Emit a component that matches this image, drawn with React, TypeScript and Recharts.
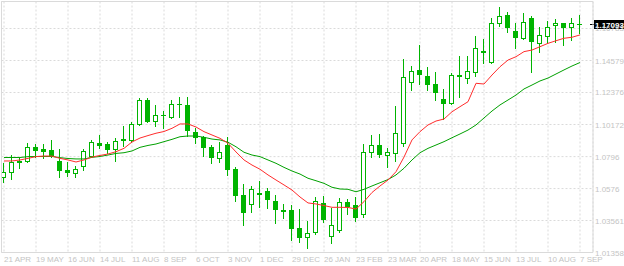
import React from 'react';
import { ComposedChart, Bar, Line, XAxis, YAxis, CartesianGrid, ReferenceLine } from 'recharts';

// weekly candles, one every week, labels every 4th week
const weekTicks = [0, 4, 8, 12, 16, 20, 24, 28, 32, 36, 40, 44, 48, 52, 56, 60, 64, 68, 72];
const weekLabels = ['21 APR', '19 MAY', '16 JUN', '14 JUL', '11 AUG', '8 SEP', '6 OCT', '3 NOV', '1 DEC', '29 DEC', '26 JAN', '23 FEB', '23 MAR', '20 APR', '18 MAY', '15 JUN', '13 JUL', '10 AUG', '7 SEP'];

const priceTicks = [1.01358, 1.03561, 1.0576, 1.0796, 1.10172, 1.12376, 1.14579, 1.16783];
const priceLabels = ['1.01358', '1.03561', '1.0576', '1.0796', '1.10172', '1.12376', '1.14579', '1.16783'];
const lastPrice = 1.17093;

const opens = [1.0656, 1.069, 1.0766, 1.0766, 1.0862, 1.0849, 1.0842, 1.0766, 1.0704, 1.0683, 1.0732, 1.08, 1.089, 1.0883, 1.0849, 1.0915, 1.0911, 1.1021, 1.1186, 1.1041, 1.108, 1.1069, 1.1158, 1.1152, 1.0966, 1.0931, 1.0862, 1.0787, 1.0876, 1.0711, 1.0532, 1.047, 1.0546, 1.0559, 1.049, 1.0428, 1.0428, 1.0305, 1.0243, 1.0277, 1.0477, 1.0249, 1.0291, 1.0484, 1.0463, 1.0401, 1.0828, 1.0876, 1.0807, 1.0821, 1.089, 1.131, 1.1393, 1.1351, 1.1296, 1.1193, 1.1165, 1.1358, 1.1337, 1.1379, 1.1516, 1.1448, 1.1716, 1.1771, 1.1661, 1.1613, 1.1751, 1.1578, 1.1627, 1.1702, 1.1716, 1.1689, 1.1706];
const highs = [1.0752, 1.0807, 1.0787, 1.089, 1.0883, 1.0883, 1.0911, 1.0849, 1.0759, 1.0732, 1.0849, 1.0911, 1.0945, 1.0897, 1.0924, 1.1007, 1.1034, 1.12, 1.12, 1.1152, 1.111, 1.1186, 1.1207, 1.1207, 1.0993, 1.0938, 1.0876, 1.0897, 1.0931, 1.0725, 1.0608, 1.0594, 1.0628, 1.058, 1.0532, 1.047, 1.0463, 1.0435, 1.0353, 1.0518, 1.0525, 1.0442, 1.0511, 1.0504, 1.0518, 1.0883, 1.0945, 1.0952, 1.0855, 1.1145, 1.1468, 1.142, 1.1565, 1.1413, 1.1379, 1.1262, 1.1372, 1.1489, 1.1489, 1.1627, 1.1606, 1.1751, 1.1826, 1.1792, 1.1716, 1.1785, 1.1764, 1.1689, 1.173, 1.1744, 1.1717, 1.1751, 1.1771];
const lows = [1.0621, 1.0642, 1.0718, 1.0759, 1.0793, 1.0787, 1.0793, 1.0656, 1.0663, 1.0656, 1.0704, 1.0793, 1.0855, 1.0821, 1.0766, 1.0869, 1.0897, 1.1014, 1.1034, 1.1007, 1.0993, 1.1062, 1.1069, 1.0938, 1.089, 1.08, 1.0752, 1.0759, 1.067, 1.049, 1.0325, 1.0415, 1.0449, 1.0442, 1.0339, 1.0373, 1.0222, 1.0208, 1.0167, 1.0263, 1.0346, 1.0201, 1.0277, 1.0401, 1.0353, 1.038, 1.0793, 1.0793, 1.0725, 1.0766, 1.0869, 1.1255, 1.1296, 1.1255, 1.1186, 1.1055, 1.1158, 1.1207, 1.1303, 1.1351, 1.1441, 1.1441, 1.1696, 1.1654, 1.1544, 1.1606, 1.1379, 1.1516, 1.1578, 1.1585, 1.1565, 1.1599, 1.1647];
const closes = [1.069, 1.0759, 1.0759, 1.0862, 1.0842, 1.0835, 1.08, 1.0704, 1.069, 1.0711, 1.0835, 1.0897, 1.0876, 1.0849, 1.0904, 1.0912, 1.1021, 1.1186, 1.1041, 1.1083, 1.1083, 1.1158, 1.1155, 1.0979, 1.0931, 1.0862, 1.0793, 1.0828, 1.0711, 1.0532, 1.0415, 1.0573, 1.0542, 1.0504, 1.0435, 1.0425, 1.0305, 1.0243, 1.027, 1.049, 1.0367, 1.0325, 1.0484, 1.0456, 1.038, 1.0828, 1.0876, 1.0814, 1.0828, 1.0959, 1.1344, 1.1386, 1.1365, 1.1296, 1.1241, 1.1165, 1.1358, 1.1351, 1.1386, 1.1544, 1.152, 1.1716, 1.1764, 1.1689, 1.162, 1.1723, 1.1592, 1.1634, 1.1689, 1.1716, 1.1689, 1.1716, 1.17093];

// moving averages as drawn on the chart
const fastMA = [1.0766, 1.0766, 1.0773, 1.0784, 1.0796, 1.08, 1.08, 1.0784, 1.0773, 1.0759, 1.0773, 1.0793, 1.0804, 1.0814, 1.083, 1.0853, 1.0897, 1.0924, 1.0941, 1.0957, 1.0969, 1.0991, 1.1021, 1.1021, 1.1, 1.0968, 1.0945, 1.0922, 1.0888, 1.0828, 1.0773, 1.0738, 1.0709, 1.067, 1.0635, 1.0601, 1.0566, 1.0518, 1.0477, 1.047, 1.0459, 1.0447, 1.0447, 1.0446, 1.0435, 1.0486, 1.0549, 1.0594, 1.0635, 1.0692, 1.0793, 1.0911, 1.0968, 1.1014, 1.1041, 1.1055, 1.1105, 1.114, 1.1174, 1.1301, 1.1296, 1.1358, 1.1415, 1.1461, 1.1484, 1.1519, 1.153, 1.1553, 1.1576, 1.1594, 1.1611, 1.1618, 1.1634];
const slowMA = [1.079, 1.079, 1.079, 1.0796, 1.0797, 1.0797, 1.0797, 1.0789, 1.0783, 1.078, 1.078, 1.0791, 1.0797, 1.0807, 1.0818, 1.0823, 1.0835, 1.086, 1.0873, 1.0883, 1.0899, 1.0915, 1.0933, 1.0938, 1.0938, 1.0929, 1.0917, 1.0911, 1.0895, 1.0864, 1.0826, 1.0807, 1.0796, 1.0773, 1.075, 1.0722, 1.0697, 1.0676, 1.0647, 1.063, 1.0612, 1.0585, 1.0573, 1.0571, 1.0554, 1.0571, 1.0594, 1.0616, 1.0638, 1.067, 1.0716, 1.0773, 1.0823, 1.0853, 1.0876, 1.0899, 1.0926, 1.0952, 1.0979, 1.1014, 1.1062, 1.111, 1.1152, 1.1186, 1.122, 1.1262, 1.1289, 1.1317, 1.1337, 1.1365, 1.1393, 1.142, 1.1444];

const data = opens.map((open, i) => ({
  i,
  open,
  close: closes[i],
  high: highs[i],
  low: lows[i],
  range: [lows[i], highs[i]],
  fast: fastMA[i],
  slow: slowMA[i],
}));

const GREEN = '#00b400';
const GRID = '#dadada';
const TEXT = '#c4c4c4';
const FONT = '"Liberation Sans", Arial, sans-serif';

// candle body/wick drawn with plain fills so every edge lands on a whole pixel
function Candle(props: any) {
  const { x, y, width, height, payload } = props;
  if (x == null || !payload) return null;
  const { open, close, high, low } = payload;
  const top = Math.min(y, y + height);
  const h = Math.abs(height);
  const toY = (v: number) => top + ((high - v) / (high - low || 1)) * h;
  const cx = Math.floor(x + width / 2);
  const up = close >= open;
  const wTop = Math.round(toY(high));
  const wBot = Math.round(toY(low));
  const bTop = Math.round(toY(Math.max(open, close)));
  const bBot = Math.round(toY(Math.min(open, close)));
  const bh = Math.max(bBot - bTop + 1, 1);
  return (
    <g shapeRendering="crispEdges">
      <rect x={cx} y={wTop} width={1} height={wBot - wTop + 1} fill={GREEN} />
      <rect x={cx - 2} y={bTop} width={5} height={bh} fill={GREEN} />
      {up && bh > 2 && <rect x={cx - 1} y={bTop + 1} width={3} height={bh - 2} fill="#fff" />}
    </g>
  );
}

function WeekTick(props: any) {
  const { x, y, index } = props;
  return (
    <text x={x} y={y + 9.5} fill={TEXT} fontSize={8} fontFamily={FONT} textAnchor="start">
      {weekLabels[index]}
    </text>
  );
}

function PriceTick(props: any) {
  const { x, y, index } = props;
  return (
    <text x={x} y={y + 3} fill={TEXT} fontSize={8} fontFamily={FONT} textAnchor="start">
      {priceLabels[index]}
    </text>
  );
}

function PriceTag(props: any) {
  const vb = props.viewBox || props;
  const yy = Math.round(vb.y);
  const right = vb.x + vb.width;
  return (
    <g shapeRendering="crispEdges">
      <line x1={right - 3} x2={right + 2} y1={yy + 0.5} y2={yy + 0.5} stroke="#000" />
      <rect x={right + 1} y={yy - 4} width={31} height={9} fill="#000" />
      <text x={right + 2} y={yy + 4} fill="#fff" fontSize={8} fontWeight="bold" fontFamily={FONT}>
        {lastPrice.toFixed(5)}
      </text>
    </g>
  );
}

export default function App() {
  return (
    <div style={{ position: 'absolute', left: 0, top: 0, width: 624, height: 266, background: '#fff' }}>
      <ComposedChart width={624} height={266} data={data} margin={{ top: 1.5, right: 0, bottom: 0, left: 1.5 }}>
        <CartesianGrid stroke={GRID} strokeDasharray="2 2" />
        <XAxis
          dataKey="i"
          type="number"
          domain={[-0.3125, 73.625]}
          allowDataOverflow
          ticks={weekTicks}
          interval={0}
          height={13.5}
          tickLine={false}
          tickSize={0}
          tickMargin={0}
          axisLine={{ stroke: GRID }}
          tick={<WeekTick />}
        />
        <YAxis
          orientation="right"
          type="number"
          domain={[1.01358, 1.18642]}
          allowDataOverflow
          ticks={priceTicks}
          interval={0}
          width={31}
          tickLine={false}
          tickSize={0}
          tickMargin={2}
          axisLine={{ stroke: GRID }}
          tick={<PriceTick />}
        />
        <ReferenceLine x={-0.3125} stroke={GRID} />
        <ReferenceLine y={1.18642} stroke={GRID} />
        <Bar dataKey="range" barSize={5} shape={<Candle />} isAnimationActive={false} />
        <Line type="linear" dataKey="slow" stroke="#00a000" strokeWidth={1} dot={false} isAnimationActive={false} />
        <Line type="linear" dataKey="fast" stroke="#ff2c2c" strokeWidth={1} dot={false} isAnimationActive={false} />
        <ReferenceLine y={lastPrice} stroke="none" ifOverflow="visible" label={<PriceTag />} />
      </ComposedChart>
    </div>
  );
}
